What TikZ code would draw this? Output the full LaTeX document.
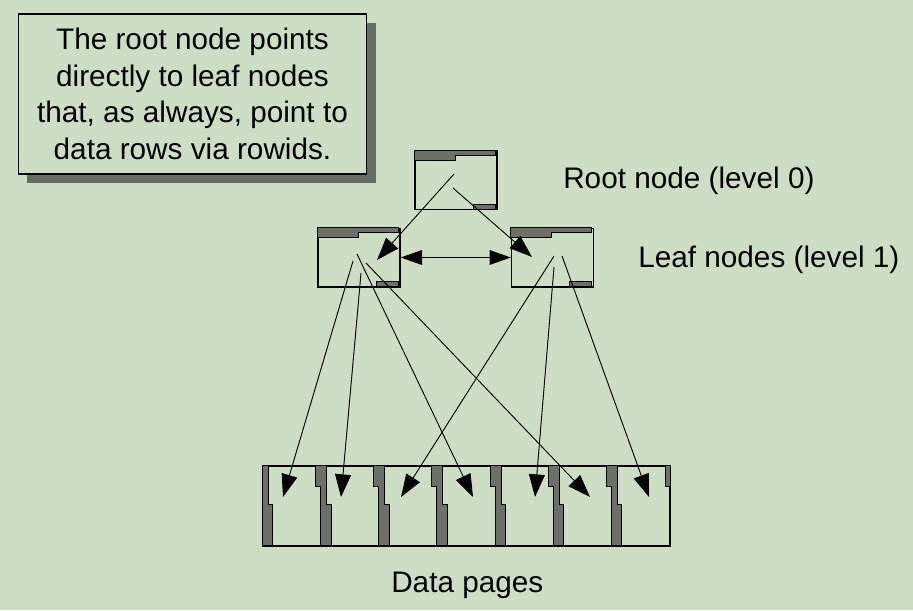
\documentclass[tikz,border=0pt]{standalone}
\usepackage{fontspec}
\setmainfont{Liberation Sans}
\usetikzlibrary{arrows.meta,shadows,calc}
\definecolor{bgc}{RGB}{206,222,196}
\definecolor{shadowc}{RGB}{100,110,96}
\definecolor{hatchc}{RGB}{108,112,102}
\tikzset{
  bigfont/.style={font=\fontsize{22.3}{27.4}\selectfont},
  idxbox/.style={draw=black, line width=1pt, fill=bgc, inner sep=0pt, minimum width=61.5pt, minimum height=44pt},
  hatch/.style={fill=hatchc, draw=black, line width=0.6pt},
  conn/.style={draw=black, line width=0.7pt, -{Triangle[length=17pt,width=12pt]}},
  biconn/.style={draw=black, line width=0.9pt, {Triangle[length=16pt,width=11pt]}-{Triangle[length=16pt,width=11pt]}},
  boxhatch/.pic={
    \path[hatch] (0,0) -- (81,0) -- (81,5) -- (41,5) -- (41,10) -- (0,10) -- cycle;
    \path[hatch] (59,54) -- (81,54) -- (81,59) -- (59,59) -- cycle;
  },
  lefthatch/.pic={
    \path[hatch] (0,0) -- (6,0) -- (6,39) -- (10.5,39) -- (10.5,80) -- (0,80) -- cycle;
  },
  midhatch/.pic={
    \path[hatch] (-5,0) -- (6,0) -- (6,39) -- (10.5,39) -- (10.5,80) -- (0,80) -- (0,21) -- (-5,21) -- cycle;
  },
  righttab/.pic={
    \path[hatch] (-5,0) -- (0,0) -- (0,21) -- (-5,21) -- cycle;
  }
}
\begin{document}
\begin{tikzpicture}[x=0.75pt,y=-0.75pt]
\useasboundingbox (0,0) rectangle (913,610);
\fill[bgc] (0,0) rectangle (913,610);

% explanation box
\node[draw=black, line width=0.8pt, fill=bgc, minimum width=261.5pt, minimum height=120pt,
      inner sep=0pt, align=center, bigfont,
      drop shadow={shadow xshift=6.5pt, shadow yshift=-6.5pt, fill=shadowc, opacity=1}]
  (note) at (192.5,94) {The root node points\\directly to leaf nodes\\that, as always, point to\\data rows via rowids.};

% index nodes
\node[idxbox] (root) at (456,180) {};
\node[idxbox] (leafL) at (359,257.5) {};
\node[idxbox] (leafR) at (552.5,257.5) {};
\pic at (root.north west) {boxhatch};
\pic at (leafL.north west) {boxhatch};
\pic at (leafR.north west) {boxhatch};

% data pages
\node[draw=black, line width=1pt, fill=bgc, inner sep=0pt, minimum width=305.25pt, minimum height=60pt] (pages) at (466.5,506) {};
\pic at (pages.north west) {lefthatch};
\foreach \i in {1,...,6} {
  \pic at ($(pages.north west)+(\i*58.17,0)$) {midhatch};
}
\pic at (pages.north east) {righttab};

% labels
\node[bigfont, anchor=base west, inner sep=0pt] (lroot) at (563,188) {Root node (level 0)};
\node[bigfont, anchor=base west, inner sep=0pt] (lleaf) at (638,267) {Leaf nodes (level 1)};
\node[bigfont, anchor=base west, inner sep=0pt] (lpages) at (391,592) {Data pages};

% connector end points
\coordinate (r1) at (454,174);
\coordinate (r2) at (453,188);
\coordinate (tL) at (377,260);
\coordinate (tR) at (532,257);
\coordinate (la) at (353,261);
\coordinate (lb) at (357,254);
\coordinate (lc) at (361,273);
\coordinate (ld) at (366,263);
\coordinate (re) at (554,256);
\coordinate (rf) at (554,267);
\coordinate (rg) at (562,256);
\coordinate (p1) at (283,497);
\coordinate (p2) at (341,497);
\coordinate (p3) at (401,497);
\coordinate (p4) at (473,497);
\coordinate (p5) at (535,497);
\coordinate (p6) at (590,497);
\coordinate (p7) at (649,497);

% connectors
\draw[conn] (r1) -- (tL);
\draw[conn] (r2) -- (tR);
\draw[biconn] (leafL.east) -- (leafR.west);
\draw[conn] (la) -- (p1);
\draw[conn] (lc) -- (p2);
\draw[conn] (lb) -- (p4);
\draw[conn] (ld) -- (p6);
\draw[conn] (re) -- (p3);
\draw[conn] (rf) -- (p5);
\draw[conn] (rg) -- (p7);
\end{tikzpicture}
\end{document}
